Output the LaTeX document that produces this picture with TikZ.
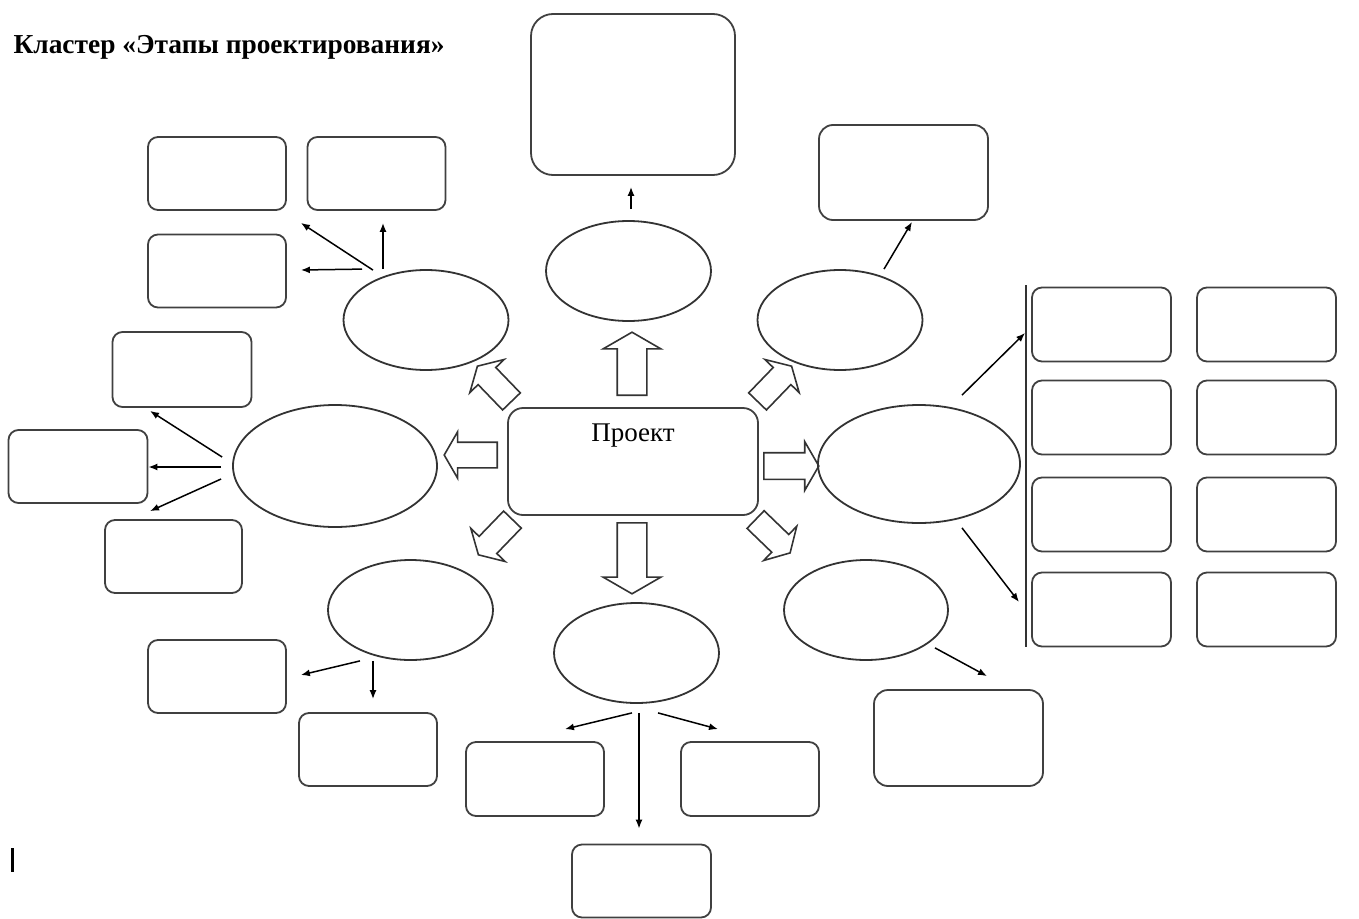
\documentclass[tikz,border=0pt]{standalone}
\usepackage{fontspec}
\setmainfont{Liberation Serif}
\usepackage{tikz}
\usetikzlibrary{shapes.geometric, shapes.arrows, arrows.meta}

\begin{document}
\begin{tikzpicture}[x=1pt, y=-1pt,
        box/.style={draw=black!75, line width=1.8pt, rounded corners=10pt,
            minimum width=138pt, minimum height=73pt, inner sep=0pt},
        oval/.style={ellipse, draw=black!80, line width=1.8pt,
            minimum width=165pt, minimum height=100pt, inner sep=0pt},
        fat/.style={single arrow, draw=black!80, line width=1.6pt, fill=white,
            inner xsep=0pt, single arrow tip angle=120,
            single arrow head indent=0pt, anchor=tail},
        con/.style={-{Latex[length=9pt, width=7pt]}, line width=1.5pt}]

    \useasboundingbox (0,0) rectangle (1359,918);

    \node[anchor=base west, font=\fontsize{27.4}{32}\selectfont\bfseries] (title) at (10,53)
        {Кластер «Этапы проектирования»};

    \node[box, rounded corners=15pt, minimum width=250pt, minimum height=107pt] (proj) at (633,461.5) {};
    \node[anchor=base, font=\fontsize{27}{30}\selectfont] (projname) at (633,441) {Проект};

    \node[fat, rotate=90, inner ysep=14pt, single arrow head extend=14pt, minimum height=63pt] (aup) at (632,396) {};
    \node[fat, rotate=-90, inner ysep=14pt, single arrow head extend=14pt, minimum height=71pt] (adown) at (632,522) {};
    \node[fat, rotate=180, inner ysep=12pt, single arrow head extend=10.5pt, minimum height=53pt] (aleft) at (498,455) {};
    \node[fat, rotate=0, inner ysep=12.5pt, single arrow head extend=11pt, minimum height=55pt] (aright) at (763,466) {};
    \node[fat, rotate=134, inner ysep=11.5pt, single arrow head extend=11.5pt, minimum height=49pt] (anw) at (512,402) {};
    \node[fat, rotate=46, inner ysep=11.5pt, single arrow head extend=11.5pt, minimum height=49pt] (ane) at (757,402) {};
    \node[fat, rotate=-134, inner ysep=11.5pt, single arrow head extend=11.5pt, minimum height=49pt] (asw) at (513,519) {};
    \node[fat, rotate=-44, inner ysep=11.5pt, single arrow head extend=11.5pt, minimum height=48pt] (ase) at (755,519) {};

    \node[oval] (etc) at (628.5,271) {};
    \node[oval] (etl) at (426,320) {};
    \node[oval] (etr) at (840,320) {};
    \node[oval, minimum width=204pt, minimum height=122pt] (el) at (335,466) {};
    \node[oval, minimum width=202pt, minimum height=118pt] (er) at (919,464) {};
    \node[oval] (ebl) at (410.5,610) {};
    \node[oval] (ebc) at (636.5,653) {};
    \node[oval, minimum width=164pt] (ebr) at (866,610) {};

    \node[box, rounded corners=22pt, minimum width=204pt, minimum height=161pt] (top) at (633,94.5) {};
    \node[box, rounded corners=14pt, minimum width=169pt, minimum height=95pt] (tr) at (903.5,172.5) {};
    \node[box, rounded corners=14pt, minimum width=169pt, minimum height=96pt] (br) at (958.5,738) {};

    \node[box] (r1) at (217,173.5) {};
    \node[box] (r2) at (376.5,173.5) {};
    \node[box] (r3) at (217,271) {};
    \node[box, minimum width=139pt, minimum height=75pt] (l1) at (182,369.5) {};
    \node[box, minimum width=139pt] (l2) at (78,466.5) {};
    \node[box, minimum width=137pt] (l3) at (173.5,556.5) {};
    \node[box] (bl1) at (217,676.5) {};
    \node[box] (bl2) at (368,749.5) {};
    \node[box, minimum height=74pt] (bc1) at (535,779) {};
    \node[box, minimum height=74pt] (bc2) at (750,779) {};
    \node[box, minimum width=139pt] (bc3) at (641.5,881) {};

    \foreach \y [count=\i] in {324.5, 417.5, 514.5, 609.5} {
        \node[box, minimum width=139pt, minimum height=74pt] (ga\i) at (1101.5,\y) {};
        \node[box, minimum width=139pt, minimum height=74pt] (gb\i) at (1266.5,\y) {};
    }

    \coordinate (bartop) at (1026,285);
    \coordinate (barbot) at (1026,647);
    \coordinate (barin) at (1025,333);
    \coordinate (barout) at (1019,602);
    \draw[black!80, line width=1.8pt] (bartop) -- (barbot);

    \draw[con] ([shift={(2.5,-11)}]etc.north) -- ([shift={(-2,11)}]top.south);
    \draw[con] ([shift={(44,0)}]etr.north) -- ([shift={(8.5,1)}]tr.south);

    \draw[con] ([shift={(-43,0)}]etl.north) -- ([shift={(6.5,12)}]r2.south);
    \draw[con] ([shift={(-53,1)}]etl.north) -- ([shift={(14,12)}]r1.south east);
    \draw[con] ([shift={(-64,0)}]etl.north) -- ([shift={(14,-1)}]r3.east);

    \draw[con] ([shift={(-10,-9)}]el.west) -- ([shift={(-32,3)}]l1.south);
    \draw[con] ([shift={(-11,1)}]el.west) -- ([shift={(0,0.5)}]l2.east);
    \draw[con] ([shift={(-11,13)}]el.west) -- ([shift={(-23.5,-8)}]l3.north);

    \draw[con] ([shift={(43,-9)}]er.north) -- (barin);
    \draw[con] ([shift={(43,4)}]er.south) -- (barout);

    \draw[con] ([shift={(-50.5,0)}]ebl.south) -- ([shift={(14,-1.5)}]bl1.east);
    \draw[con] ([shift={(-37.5,0)}]ebl.south) -- ([shift={(5,-13)}]bl2.north);

    \draw[con] ([shift={(-4.5,9)}]ebc.south) -- ([shift={(30,-12)}]bc1.north);
    \draw[con] ([shift={(21.5,9)}]ebc.south) -- ([shift={(-32,-12)}]bc2.north);
    \draw[con] ([shift={(2.5,9)}]ebc.south) -- ([shift={(-2.5,-15)}]bc3.north);

    \draw[con] ([shift={(69,-13)}]ebr.south) -- ([shift={(28.5,-13)}]br.north);

    \draw[line width=3pt] (12,848) -- (12,872);
\end{tikzpicture}
\end{document}
